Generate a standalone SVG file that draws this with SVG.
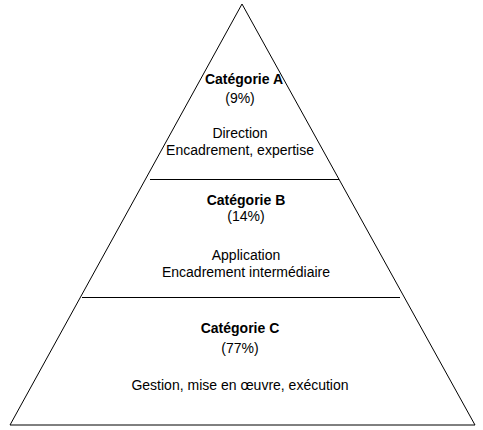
<svg xmlns="http://www.w3.org/2000/svg" width="483" height="430" viewBox="0 0 483 430">
<style>
  text { font-family: "Liberation Sans", Arial, sans-serif; font-size: 14px; fill: #000; text-anchor: middle; }
  .t { font-weight: bold; }
  .ln { stroke: #000; stroke-width: 1; fill: none; }
</style>
<rect width="483" height="430" fill="#fff"/>
<g id="pyramid">
  <polygon class="ln" points="242,4 10,425 475,425"/>
</g>
<g id="connectors">
  <line class="ln" x1="150" y1="179.5" x2="339" y2="179.5"/>
  <line class="ln" x1="82" y1="297.5" x2="400" y2="297.5"/>
</g>
<g id="categorie-a">
  <text class="t" x="244" y="84">Catégorie A</text>
  <text x="240" y="103">(9%)</text>
  <text x="240" y="138">Direction</text>
  <text x="240" y="155">Encadrement, expertise</text>
</g>
<g id="categorie-b">
  <text class="t" x="246" y="205">Catégorie B</text>
  <text x="246" y="221">(14%)</text>
  <text x="246" y="260">Application</text>
  <text x="246" y="277">Encadrement intermédiaire</text>
</g>
<g id="categorie-c">
  <text class="t" x="240" y="333">Catégorie C</text>
  <text x="240" y="353">(77%)</text>
  <text x="240" y="390">Gestion, mise en œuvre, exécution</text>
</g>
</svg>
